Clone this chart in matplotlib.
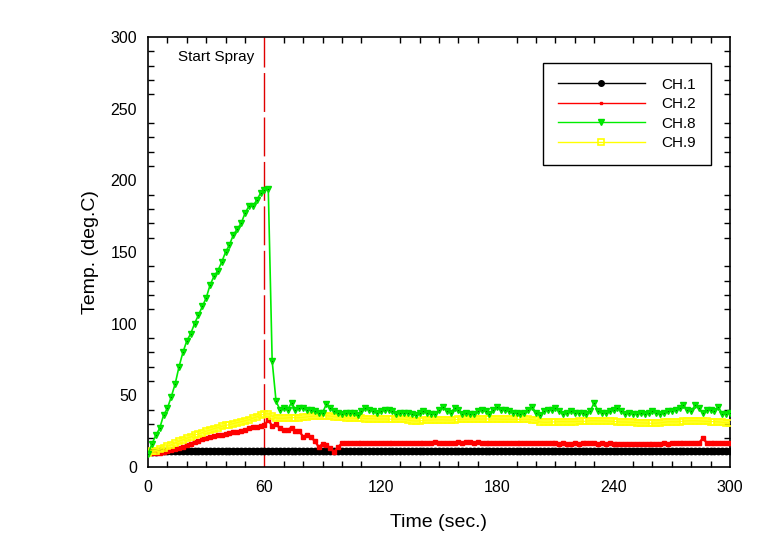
import numpy as np
import matplotlib
matplotlib.use('Agg')
import matplotlib.pyplot as plt
from matplotlib.ticker import MultipleLocator

plt.rcParams['font.family'] = ['Liberation Sans', 'DejaVu Sans']

# time axis, 2 s sampling
time_sec = np.arange(0, 301, 2)

ch1 = [10.5, 10.6, 10.8, 10.9, 11.0, 11.0, 11.0, 11.0, 11.0, 11.0,
       11.0, 11.0, 11.0, 11.0, 11.1, 11.0, 11.0, 11.0, 11.0, 11.0,
       11.0, 11.0, 11.0, 11.1, 11.0, 11.0, 11.0, 11.0, 11.0, 11.0,
       11.0, 11.1, 11.0, 11.0, 11.0, 11.0, 11.0, 11.0, 11.0, 11.0,
       11.0, 11.0, 10.9, 11.0, 11.0, 11.0, 11.0, 11.0, 11.0, 11.0,
       11.0, 11.0, 11.0, 11.0, 11.0, 11.0, 11.0, 11.0, 11.0, 11.0,
       11.0, 11.0, 11.0, 11.0, 11.0, 11.0, 11.0, 11.0, 11.0, 11.0,
       11.0, 11.0, 11.0, 11.0, 11.0, 11.0, 11.0, 11.0, 11.0, 11.0,
       11.0, 11.0, 11.0, 11.0, 11.0, 11.0, 11.0, 11.0, 11.0, 11.0,
       11.0, 11.0, 11.0, 11.0, 11.0, 11.0, 11.0, 11.0, 11.0, 11.0,
       11.0, 11.0, 11.0, 11.0, 11.0, 11.0, 11.0, 11.0, 11.0, 11.0,
       11.0, 11.0, 11.0, 11.0, 11.0, 11.0, 11.0, 11.0, 11.0, 11.0,
       11.0, 11.0, 11.0, 11.0, 11.0, 11.0, 11.0, 11.0, 11.0, 11.0,
       11.0, 11.0, 11.0, 11.0, 11.0, 11.0, 11.0, 11.0, 11.0, 11.0,
       11.0, 11.0, 11.0, 11.0, 11.0, 11.0, 11.0, 11.0, 11.0, 11.0,
       11.0]

ch2 = [9.5, 9.5, 9.6, 10.0, 10.5, 11.0, 11.8, 12.4, 13.2, 14.2,
       15.2, 16.2, 17.5, 18.3, 19.2, 20.0, 20.8, 21.5, 22.0, 22.6,
       23.2, 23.6, 24.2, 24.6, 25.2, 26.0, 27.0, 27.6, 28.2, 28.5,
       29.0, 33.0, 28.5, 30.0, 27.0, 25.8, 26.0, 27.5, 25.0, 25.0,
       21.0, 22.5, 21.0, 18.0, 14.0, 16.0, 15.5, 13.0, 10.5, 14.0,
       16.5, 17.0, 17.0, 17.0, 16.8, 17.0, 17.0, 16.8, 17.0, 17.0,
       16.8, 17.0, 16.8, 16.8, 17.0, 16.8, 16.8, 17.0, 16.6, 16.8,
       16.8, 16.8, 17.0, 17.0, 17.2, 16.8, 16.6, 16.8, 16.8, 16.6,
       17.2, 17.0, 17.2, 17.6, 17.0, 17.6, 17.0, 16.8, 16.8, 16.8,
       16.8, 16.6, 16.8, 16.8, 16.6, 16.6, 16.8, 16.6, 16.6, 16.4,
       16.4, 16.6, 16.4, 16.4, 16.6, 16.4, 16.2, 16.4, 16.2, 16.2,
       16.4, 16.2, 16.4, 16.6, 16.4, 16.4, 16.2, 16.4, 16.2, 16.4,
       16.2, 16.0, 16.0, 15.8, 16.2, 16.0, 16.2, 15.8, 16.0, 16.2,
       15.8, 16.0, 16.2, 16.4, 16.2, 16.6, 16.4, 16.6, 17.0, 16.6,
       16.8, 16.6, 16.8, 20.0, 17.0, 16.8, 17.0, 17.0, 16.8, 16.8,
       16.8]

ch8 = [9, 16, 22, 27, 36, 41, 49, 58, 70, 80,
       88, 93, 100, 106, 112, 118, 127, 133, 137, 143,
       150, 155, 162, 166, 170, 177, 182, 182, 186, 191,
       193, 194, 74, 46, 40, 41, 40, 45, 40, 41,
       41, 40, 40, 39, 38, 38, 44, 41, 39, 38,
       37, 38, 38, 38, 36, 39, 41, 40, 39, 38,
       39, 40, 40, 39, 37, 38, 38, 38, 37, 36,
       38, 39, 38, 37, 37, 40, 42, 39, 38, 41,
       40, 37, 38, 37, 37, 39, 40, 39, 37, 40,
       42, 40, 40, 39, 38, 38, 37, 38, 40, 42,
       38, 36, 39, 40, 40, 41, 39, 37, 38, 39,
       38, 38, 38, 37, 39, 45, 39, 38, 38, 39,
       40, 41, 39, 37, 38, 37, 37, 38, 37, 38,
       39, 38, 37, 38, 39, 39, 40, 41, 43, 40,
       39, 43, 41, 38, 40, 40, 39, 42, 37, 37,
       38]

ch9 = [10, 11, 11.5, 12.5, 13.5, 14.5, 15.5, 16.8, 18, 19,
       20, 21, 22.3, 23, 24, 25, 25.8, 26.8, 27.5, 28.3,
       29, 29.6, 30.3, 31, 31.6, 32.3, 33, 34, 35, 36,
       37, 37.2, 35.5, 34.2, 34, 34, 34.3, 34.5, 34.4, 34.4,
       34.6, 35, 35.3, 35.5, 35.6, 35.8, 35.8, 35.5, 35, 34.8,
       34.6, 34.3, 34.2, 34, 34, 34, 33.8, 33.8, 33.7, 33.5,
       33.5, 33.5, 33.4, 33.3, 33.3, 33.5, 33.2, 32.8, 32.3, 32.1,
       32.2, 32.5, 32.8, 32.8, 33, 33, 33, 32.8, 32.8, 33,
       33.2, 33.3, 33.3, 33.5, 33.5, 33.5, 33.4, 33.5, 33.5, 33.5,
       33.5, 33.3, 33.3, 33.3, 33.2, 33.3, 33.2, 33.3, 33.3, 33.1,
       32.5, 31.5, 31.2, 31.2, 31.4, 31.5, 31.7, 31.7, 31.6, 31.7,
       31.7, 31.8, 31.8, 32, 32.3, 32.3, 32.2, 32.2, 32.1, 32,
       31.8, 31.6, 31.4, 31.4, 31.3, 31.2, 31, 30.8, 30.7, 30.6,
       30.5, 30.6, 30.8, 31.2, 31.6, 31.6, 31.5, 31.7, 32, 32.2,
       32.3, 32.3, 32.2, 32, 31.8, 31.7, 31.7, 31.5, 31.2, 30.9,
       30.8]

spray_start = 60

fig = plt.figure(figsize=(7.72, 5.49), dpi=100)
ax = fig.add_axes([148/772, 1 - 467/549, 582/772, 430/549])

ax.plot(time_sec, ch1, color='black', lw=1.5, marker='o', ms=4.6,
        mec='black', label='CH.1', zorder=3)
ax.plot(time_sec, ch2, color='red', lw=1.6, marker='s', ms=2.8,
        mec='red', label='CH.2', zorder=4)
ax.plot(time_sec, ch8, color='#00ee00', lw=1.2, marker='v', ms=4,
        mec='#00e000', label='CH.8', zorder=6)
ax.plot(time_sec, ch8, color='none', marker='.', ms=1.5, mfc='#006600',
        mec='none', zorder=7)
ax.plot(time_sec, ch9, color='#ffff00', lw=0.8, marker='s', ms=4.2,
        mfc='none', mec='#ffff00', mew=1.2, label='CH.9', zorder=5)

ax.axvline(spray_start, color='#e00000', lw=1, linestyle=(0, (28, 4)),
           zorder=2)
ax.annotate('Start Spray', xy=(spray_start, 286), xytext=(-7, 0),
            textcoords='offset points', ha='right', va='center', fontsize=11)

ax.set_xlim(0, 300)
ax.set_ylim(0, 300)
ax.xaxis.set_major_locator(MultipleLocator(60))
ax.xaxis.set_minor_locator(MultipleLocator(10))
ax.yaxis.set_major_locator(MultipleLocator(50))
ax.yaxis.set_minor_locator(MultipleLocator(10))
ax.tick_params(which='major', length=0, labelsize=11.5)
ax.tick_params(axis='x', which='major', pad=9)
ax.tick_params(axis='y', which='major', pad=8)
ax.tick_params(which='minor', direction='in', length=4, width=1,
               top=True, right=True)
for s in ax.spines.values():
    s.set_linewidth(1.2)

ax.set_xlabel('Time (sec.)', fontsize=14, labelpad=14)
ax.set_ylabel('Temp. (deg.C)', fontsize=14, labelpad=8)

leg = ax.legend(loc='upper left', bbox_to_anchor=(0.679, 0.939),
                borderaxespad=0, fontsize=11, handlelength=5.7,
                handletextpad=1.1, borderpad=0.95, labelspacing=0.36,
                fancybox=False, framealpha=1, edgecolor='black')
leg.get_frame().set_linewidth(1)
for h, ms in zip(leg.get_lines(), [4, 2, 4, 4]):
    h.set_linewidth(1)
    h.set_markersize(ms)

fig.savefig('out.png', dpi=100)
